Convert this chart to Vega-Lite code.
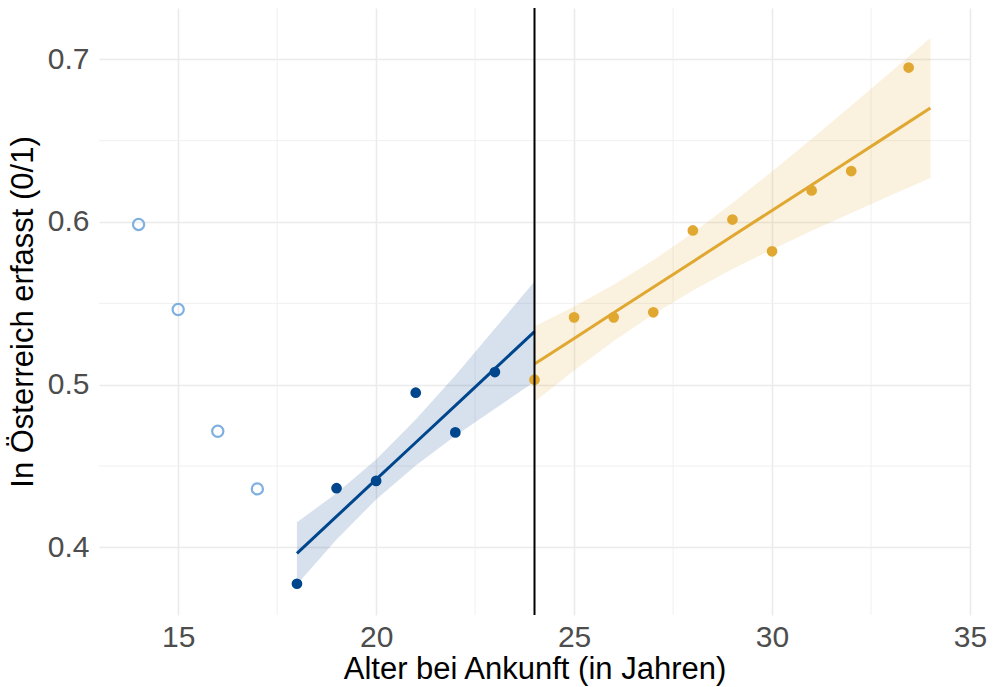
{
  "$schema": "https://vega.github.io/schema/vega-lite/v6.json",
  "width": 871,
  "height": 607,
  "autosize": {"type": "none"},
  "padding": {"left": 99, "top": 8, "right": 29, "bottom": 72},
  "background": "white",
  "config": {
    "view": {"stroke": null},
    "font": "Liberation Sans",
    "axisX": {"grid": true, "gridColor": "#EBEBEB", "gridWidth": 1.6, "ticks": false, "domain": false, "labelFontSize": 30, "labelColor": "#4D4D4D", "labelPadding": 7, "titleFontSize": 31, "titleColor": "#000000", "titleFontWeight": "normal", "titlePadding": 2, "labelFlush": false},
    "axisY": {"grid": true, "gridColor": "#EBEBEB", "gridWidth": 1.6, "ticks": false, "domain": false, "labelFontSize": 30, "labelColor": "#4D4D4D", "labelPadding": 10, "titleFontSize": 31, "titleColor": "#000000", "titleFontWeight": "normal", "titlePadding": 8, "labelFlush": false}
  },
  "datasets": {
    "pts": [
      {"x": 14, "y": 0.5985, "g": "pre"},
      {"x": 15, "y": 0.5462, "g": "pre"},
      {"x": 16, "y": 0.4714, "g": "pre"},
      {"x": 17, "y": 0.436, "g": "pre"},
      {"x": 18, "y": 0.3777, "g": "blue"},
      {"x": 19, "y": 0.4364, "g": "blue"},
      {"x": 20, "y": 0.4409, "g": "blue"},
      {"x": 21, "y": 0.4951, "g": "blue"},
      {"x": 22, "y": 0.4707, "g": "blue"},
      {"x": 23, "y": 0.5078, "g": "blue"},
      {"x": 24, "y": 0.5031, "g": "gold"},
      {"x": 25, "y": 0.5414, "g": "gold"},
      {"x": 26, "y": 0.5414, "g": "gold"},
      {"x": 27, "y": 0.5445, "g": "gold"},
      {"x": 28, "y": 0.5948, "g": "gold"},
      {"x": 29, "y": 0.6015, "g": "gold"},
      {"x": 30, "y": 0.582, "g": "gold"},
      {"x": 31, "y": 0.6194, "g": "gold"},
      {"x": 32, "y": 0.6313, "g": "gold"},
      {"x": 33.45, "y": 0.6949, "g": "gold"}
    ],
    "fit": [
      {"x": 18, "fit": 0.3964, "lo": 0.3773, "hi": 0.4155, "g": "blue"},
      {"x": 19, "fit": 0.4191, "lo": 0.4049, "hi": 0.4333, "g": "blue"},
      {"x": 20, "fit": 0.4418, "lo": 0.4295, "hi": 0.4541, "g": "blue"},
      {"x": 21, "fit": 0.4645, "lo": 0.4503, "hi": 0.4787, "g": "blue"},
      {"x": 22, "fit": 0.4872, "lo": 0.4687, "hi": 0.5057, "g": "blue"},
      {"x": 23, "fit": 0.5099, "lo": 0.4853, "hi": 0.5345, "g": "blue"},
      {"x": 24, "fit": 0.5326, "lo": 0.5018, "hi": 0.5634, "g": "blue"},
      {"x": 24, "fit": 0.5127, "lo": 0.4896, "hi": 0.5358, "g": "gold"},
      {"x": 25, "fit": 0.5284, "lo": 0.5088, "hi": 0.548, "g": "gold"},
      {"x": 26, "fit": 0.5442, "lo": 0.5269, "hi": 0.5615, "g": "gold"},
      {"x": 27, "fit": 0.5599, "lo": 0.5433, "hi": 0.5765, "g": "gold"},
      {"x": 28, "fit": 0.5756, "lo": 0.5579, "hi": 0.5933, "g": "gold"},
      {"x": 29, "fit": 0.5914, "lo": 0.5711, "hi": 0.6117, "g": "gold"},
      {"x": 30, "fit": 0.6071, "lo": 0.5831, "hi": 0.6311, "g": "gold"},
      {"x": 31, "fit": 0.6228, "lo": 0.5946, "hi": 0.651, "g": "gold"},
      {"x": 32, "fit": 0.6385, "lo": 0.6056, "hi": 0.6714, "g": "gold"},
      {"x": 33, "fit": 0.6543, "lo": 0.6164, "hi": 0.6922, "g": "gold"},
      {"x": 34, "fit": 0.67, "lo": 0.627, "hi": 0.713, "g": "gold"}
    ],
    "minorx": [{"x": 17.5}, {"x": 22.5}, {"x": 27.5}, {"x": 32.5}],
    "minory": [{"y": 0.45}, {"y": 0.55}, {"y": 0.65}],
    "cut": [{"x": 24}]
  },
  "layer": [
    {
      "data": {"name": "minorx"},
      "mark": {"type": "rule", "color": "#F0F0F0", "strokeWidth": 1},
      "encoding": {
        "x": {"field": "x", "type": "quantitative", "scale": {"domain": [13, 35], "nice": false, "zero": false}, "title": "Alter bei Ankunft (in Jahren)", "axis": {"values": [15, 20, 25, 30, 35]}}
      }
    },
    {
      "data": {"name": "minory"},
      "mark": {"type": "rule", "color": "#F0F0F0", "strokeWidth": 1},
      "encoding": {
        "y": {"field": "y", "type": "quantitative", "scale": {"domain": [0.3585, 0.7315], "nice": false, "zero": false}, "title": "In Österreich erfasst (0/1)", "axis": {"values": [0.4, 0.5, 0.6, 0.7], "format": ".1f"}}
      }
    },
    {
      "data": {"name": "fit"},
      "mark": {"type": "area", "fillOpacity": 0.16},
      "encoding": {
        "x": {"field": "x", "type": "quantitative", "scale": {"domain": [13, 35], "nice": false, "zero": false}, "title": "Alter bei Ankunft (in Jahren)", "axis": {"values": [15, 20, 25, 30, 35]}},
        "y": {"field": "lo", "type": "quantitative", "scale": {"domain": [0.3585, 0.7315], "nice": false, "zero": false}, "title": "In Österreich erfasst (0/1)", "axis": {"values": [0.4, 0.5, 0.6, 0.7], "format": ".1f"}},
        "y2": {"field": "hi"},
        "detail": {"field": "g"},
        "color": {"field": "g", "type": "nominal", "scale": {"domain": ["pre", "blue", "gold"], "range": ["#7FB0E0", "#00468D", "#E0A830"]}, "legend": null}
      }
    },
    {
      "data": {"name": "fit"},
      "mark": {"type": "line", "strokeWidth": 3},
      "encoding": {
        "x": {"field": "x", "type": "quantitative", "title": "Alter bei Ankunft (in Jahren)", "axis": {"values": [15, 20, 25, 30, 35]}},
        "y": {"field": "fit", "type": "quantitative", "title": "In Österreich erfasst (0/1)", "axis": {"values": [0.4, 0.5, 0.6, 0.7], "format": ".1f"}},
        "detail": {"field": "g"},
        "color": {"field": "g", "type": "nominal", "legend": null}
      }
    },
    {
      "data": {"name": "pts"},
      "transform": [{"filter": "datum.g === 'pre'"}],
      "mark": {"type": "point", "shape": "circle", "filled": false, "size": 125, "strokeWidth": 2.2, "opacity": 1},
      "encoding": {
        "x": {"field": "x", "type": "quantitative", "title": "Alter bei Ankunft (in Jahren)", "axis": {"values": [15, 20, 25, 30, 35]}},
        "y": {"field": "y", "type": "quantitative", "title": "In Österreich erfasst (0/1)", "axis": {"values": [0.4, 0.5, 0.6, 0.7], "format": ".1f"}},
        "color": {"field": "g", "type": "nominal", "legend": null}
      }
    },
    {
      "data": {"name": "pts"},
      "transform": [{"filter": "datum.g !== 'pre'"}],
      "mark": {"type": "circle", "size": 115, "opacity": 1},
      "encoding": {
        "x": {"field": "x", "type": "quantitative", "title": "Alter bei Ankunft (in Jahren)", "axis": {"values": [15, 20, 25, 30, 35]}},
        "y": {"field": "y", "type": "quantitative", "title": "In Österreich erfasst (0/1)", "axis": {"values": [0.4, 0.5, 0.6, 0.7], "format": ".1f"}},
        "color": {"field": "g", "type": "nominal", "legend": null}
      }
    },
    {
      "data": {"name": "cut"},
      "mark": {"type": "rule", "color": "#000000", "strokeWidth": 2},
      "encoding": {
        "x": {"field": "x", "type": "quantitative", "title": "Alter bei Ankunft (in Jahren)", "axis": {"values": [15, 20, 25, 30, 35]}}
      }
    }
  ]
}
